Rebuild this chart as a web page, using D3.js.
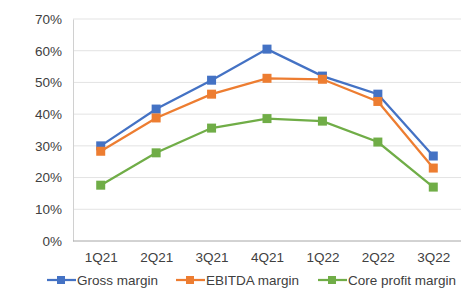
<!DOCTYPE html>
<html lang="en">
<head>
<meta charset="UTF-8">
<script src="https://d3js.org/d3.v7.min.js"></script>
<style>
    body { margin: 0; background: #fff; font-family: "Liberation Sans", Arial, sans-serif; }
    svg text { fill: #404040; font-size: 13.5px; }
</style>
</head>
<body>
<svg id="vis"></svg>
<script>
    const width = 471;
    const height = 290;

    const quarters = ["1Q21", "2Q21", "3Q21", "4Q21", "1Q22", "2Q22", "3Q22"];
    const grossMargin = [30.0, 41.6, 50.7, 60.5, 52.0, 46.3, 26.8];
    const ebitdaMargin = [28.3, 38.8, 46.3, 51.3, 51.0, 44.0, 23.0];
    const coreProfitMargin = [17.6, 27.8, 35.6, 38.6, 37.8, 31.2, 17.0];
    const yTicks = [0, 10, 20, 30, 40, 50, 60, 70];

    const series = [
        { name: "Gross margin", values: grossMargin, color: "#4472c4" },
        { name: "EBITDA margin", values: ebitdaMargin, color: "#ed7d31" },
        { name: "Core profit margin", values: coreProfitMargin, color: "#70ad47" }
    ];

    const margin = { top: 19, right: 10, bottom: 49, left: 73 };
    const svg = d3.select("#vis").attr("width", width).attr("height", height);

    const x = d3.scalePoint()
        .domain(quarters)
        .range([margin.left, width - margin.right])
        .padding(0.5);
    const y = d3.scaleLinear()
        .domain([0, 70])
        .range([height - margin.bottom, margin.top]);

    // gridlines
    svg.append("g")
        .selectAll("line")
        .data(yTicks.filter(d => d > 0))
        .join("line")
        .attr("x1", margin.left)
        .attr("x2", width - margin.right)
        .attr("y1", d => y(d))
        .attr("y2", d => y(d))
        .attr("stroke", "#e3e3e3")
        .attr("stroke-width", 1);

    // y axis
    const yAxis = svg.append("g")
        .attr("transform", `translate(${margin.left},0)`)
        .call(d3.axisLeft(y).tickValues(yTicks).tickFormat(d => d + "%").tickSize(0).tickPadding(11));
    yAxis.select(".domain").attr("stroke", "#d0d0d0");
    yAxis.selectAll("text").style("font-family", "Liberation Sans, Arial, sans-serif").style("font-size", "13.5px");

    // x axis
    const xAxis = svg.append("g")
        .attr("transform", `translate(0,${height - margin.bottom})`)
        .call(d3.axisBottom(x).tickSize(0).tickPadding(11));
    xAxis.select(".domain").attr("stroke", "#a6a6a6").attr("d", `M${margin.left},0H${width - margin.right}`);
    xAxis.selectAll("text").style("font-family", "Liberation Sans, Arial, sans-serif").style("font-size", "13.5px");

    const line = d3.line()
        .x((d, i) => x(quarters[i]))
        .y(d => y(d));

    const groups = svg.append("g")
        .selectAll("g")
        .data(series)
        .join("g");

    groups.append("path")
        .attr("d", d => line(d.values))
        .attr("fill", "none")
        .attr("stroke", d => d.color)
        .attr("stroke-width", 2.25);

    groups.selectAll("rect")
        .data(d => d.values.map((v, i) => ({ v, i, color: d.color })))
        .join("rect")
        .attr("x", d => x(quarters[d.i]) - 4.5)
        .attr("y", d => y(d.v) - 4.5)
        .attr("width", 9)
        .attr("height", 9)
        .attr("fill", d => d.color);

    // legend
    const legendX = [47, 176, 318];
    const legendY = 280;
    const legend = svg.append("g")
        .selectAll("g")
        .data(series)
        .join("g")
        .attr("transform", (d, i) => `translate(${legendX[i]},${legendY})`);
    legend.append("line")
        .attr("x1", 0).attr("x2", 29)
        .attr("stroke", d => d.color)
        .attr("stroke-width", 2.25);
    legend.append("rect")
        .attr("x", 10).attr("y", -4).attr("width", 8).attr("height", 8)
        .attr("fill", d => d.color);
    legend.append("text")
        .attr("x", 30)
        .attr("dy", "0.35em")
        .text(d => d.name);
</script>
</body>
</html>
